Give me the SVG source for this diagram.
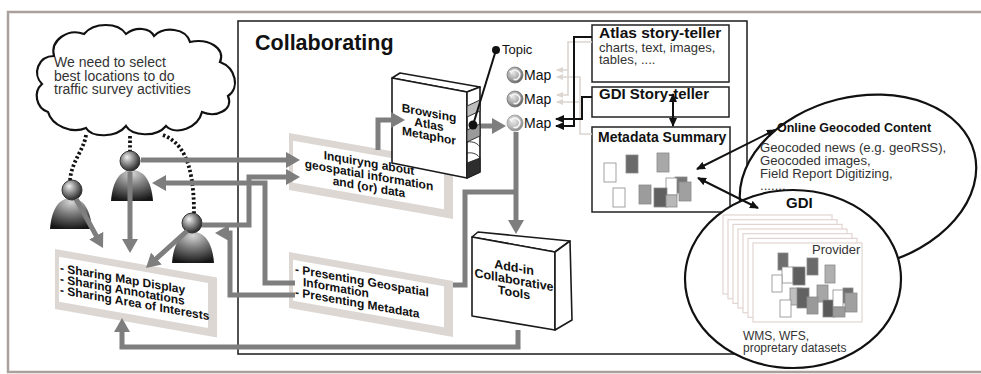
<svg xmlns="http://www.w3.org/2000/svg" width="981" height="374" viewBox="0 0 981 374">
<defs>
<style>
text{font-family:"Liberation Sans",Arial,Helvetica,sans-serif;fill:#111;}
.b{font-weight:bold;}
.grey{fill:#333;}
.conn{fill:none;stroke:#7e7e7e;stroke-width:5;}
.thin{fill:none;stroke:#111;stroke-width:2;}
.faint{fill:none;stroke:#ddd5d0;stroke-width:1.6;}
.outline{fill:#fff;stroke:#1a1a1a;stroke-width:1.6;stroke-linejoin:round;}
.frame{fill:#dcd7d3;}
.inner{fill:#fff;}
.dots{fill:none;stroke:#111;stroke-width:3.8;stroke-dasharray:2.4 2.2;}
.page{fill:#fff;stroke:#e2d5d1;stroke-width:1.2;}
.tile{stroke:#8a8a8a;stroke-width:0.8;}
</style>
<marker id="ga" viewBox="0 0 14 16" refX="9" refY="8" markerWidth="14" markerHeight="16" markerUnits="userSpaceOnUse" orient="auto"><path d="M0,0 L14,8 L0,16 z" fill="#7e7e7e"/></marker>
<marker id="ba" viewBox="0 0 9 8" refX="8" refY="4" markerWidth="9" markerHeight="8" markerUnits="userSpaceOnUse" orient="auto-start-reverse"><path d="M0,0 L9,4 L0,8 z" fill="#111"/></marker>
<marker id="fa" viewBox="0 0 7 6" refX="6" refY="3" markerWidth="7" markerHeight="6" markerUnits="userSpaceOnUse" orient="auto"><path d="M0,0 L7,3 L0,6 z" fill="#ddd5d0"/></marker>
<radialGradient id="headG" cx="40%" cy="38%" r="62%" fx="35%" fy="30%">
<stop offset="0" stop-color="#f2f2f2"/><stop offset="0.5" stop-color="#8c8c8c"/><stop offset="1" stop-color="#2a2a2a"/>
</radialGradient>
<radialGradient id="bodyG" cx="50%" cy="12%" r="90%">
<stop offset="0" stop-color="#d6d6d6"/><stop offset="0.45" stop-color="#7a7a7a"/><stop offset="1" stop-color="#151515"/>
</radialGradient>
<radialGradient id="globeG" cx="40%" cy="38%" r="65%">
<stop offset="0" stop-color="#e6e6e6"/><stop offset="0.6" stop-color="#a5a5a5"/><stop offset="1" stop-color="#5c5c5c"/>
</radialGradient>
<g id="globe">
<circle r="8" fill="url(#globeG)" stroke="#777" stroke-width="0.8"/>
<path d="M-3.5,-3 A4.6,4.6 0 1 1 -1.5,4.2" fill="none" stroke="#f4f4f4" stroke-width="1.6"/>
<path d="M-6,-4 L-2,-4.5 L-3.5,-0.8 z" fill="#f4f4f4"/>
</g>
</defs>

<rect width="981" height="374" fill="#fff"/>
<!-- outer frame -->
<path d="M981,12 H8 V372 H981" fill="none" stroke="#aaa19c" stroke-width="2.5"/>

<!-- collaborating area -->
<g id="collaborating">
<rect x="238" y="21" width="509" height="333" fill="none" stroke="#1a1a1a" stroke-width="1.5"/>
<text x="255" y="50" class="b" font-size="21.5">Collaborating</text>
</g>

<!-- thought cloud -->
<g id="cloud">
<path d="M48,112 C36,108 33,92 42,84 C32,74 38,56 54,56 C50,40 68,28 84,34 C94,22 118,22 126,34 C136,26 150,28 154,36 C164,26 186,28 190,42 C208,38 226,48 220,62 C236,68 240,88 228,96 C234,110 216,118 202,112 C198,128 176,136 166,126 C156,138 132,136 126,126 C116,138 92,138 86,128 C72,134 52,126 48,112 Z" fill="#fff" stroke="#111" stroke-width="2.2"/>
<text class="grey" font-size="14"><tspan x="54" y="67">We need to select</tspan><tspan x="54" y="80.5">best locations to do</tspan><tspan x="54" y="94">traffic survey activities</tspan></text>
</g>

<!-- links from thought to people -->
<g id="thought-links">
<path class="dots" d="M86,135 C84,150 72,160 70,180"/>
<path class="dots" d="M130,136 V151"/>
<path class="dots" d="M163,135 C180,142 194,158 194,213"/>
</g>

<!-- people -->
<g id="person-left">
<path d="M50,229 C51,215 56,198 71,198 C86,198 91,215 92,229 Z" fill="url(#bodyG)"/>
<circle cx="72" cy="190" r="10" fill="url(#headG)" stroke="#333" stroke-width="1"/>
</g>
<g id="person-middle">
<path d="M111,201 C112,187 117,170 132,170 C147,170 152,187 153,201 Z" fill="url(#bodyG)"/>
<circle cx="130" cy="161" r="10" fill="url(#headG)" stroke="#333" stroke-width="1"/>
</g>
<g id="person-right">
<path d="M172,263 C173,249 178,232 193,232 C208,232 213,249 214,263 Z" fill="url(#bodyG)"/>
<circle cx="192" cy="223" r="10" fill="url(#headG)" stroke="#333" stroke-width="1"/>
</g>

<!-- sharing box -->
<g id="sharing" transform="translate(55,249) skewY(10)">
<rect class="frame" width="162" height="60"/>
<rect class="inner" x="4" y="7" width="149" height="45"/>
<text class="b" font-size="12"><tspan x="5" y="22">- Sharing Map Display</tspan><tspan x="5" y="33">- Sharing Annotations</tspan><tspan x="5" y="44">- Sharing Area of Interests</tspan></text>
</g>

<!-- inquiring box -->
<g id="inquiring" transform="translate(289,133) skewY(10)">
<rect class="frame" width="164" height="57"/>
<rect class="inner" x="4" y="7" width="151" height="42"/>
<text class="b" font-size="12" text-anchor="middle"><tspan x="80" y="20">Inquiryng about</tspan><tspan x="80" y="32">geospatial information</tspan><tspan x="80" y="44">and (or) data</tspan></text>
</g>

<!-- presenting box -->
<g id="presenting" transform="translate(289,252) skewY(10)">
<rect class="frame" width="164" height="56"/>
<rect class="inner" x="4" y="7" width="151" height="41"/>
<text class="b" font-size="12"><tspan x="6" y="20">- Presenting Geospatial</tspan><tspan x="14" y="31.5">Information</tspan><tspan x="6" y="43">- Presenting Metadata</tspan></text>
</g>

<!-- atlas book -->
<g id="atlas-book">
<polygon class="outline" points="392,78 400,73 480,87 467,92"/>
<polygon class="outline" points="392,78 467,92 467,178 392,163"/>
<polygon class="outline" points="467,92 480,87 480,172 467,178"/>
<g stroke="#222" stroke-width="0.9">
<path d="M467,106 L480,100 L480,111 L467,117 Z" fill="#bdbdbd"/>
<path d="M467,130 L480,124 L480,136 L467,142 Z" fill="#9a9a9a"/>
<path d="M467,142 C474,141 478,144 480,147 M467,153 C474,152 478,155 480,158" fill="none"/>
<path d="M467,163 L480,158 L480,172 L467,178 Z" fill="#2e2e2e"/>
</g>
<g transform="translate(392,78) skewY(10.6)">
<text class="b" font-size="12" text-anchor="middle"><tspan x="37" y="32">Browsing</tspan><tspan x="37" y="43.5">Atlas</tspan><tspan x="37" y="55">Metaphor</tspan></text>
</g>
</g>

<!-- topic pin -->
<g id="topic">
<line x1="496" y1="50" x2="473" y2="125" stroke="#111" stroke-width="2"/>
<circle cx="496" cy="50" r="4" fill="#111"/>
<circle cx="473" cy="125" r="4.5" fill="#111"/>
<text x="502" y="54" font-size="13">Topic</text>
</g>

<!-- map entries -->
<g id="map1"><use href="#globe" x="515" y="75"/><text x="524" y="80" font-size="14">Map</text></g>
<g id="map2"><use href="#globe" x="515" y="99"/><text x="524" y="104" font-size="14">Map</text></g>
<g id="map3"><use href="#globe" x="515" y="123" opacity="0.75"/><text x="524" y="128" font-size="14">Map</text></g>

<!-- add-in tools -->
<g id="addin">
<polygon class="outline" points="472,237 478,232 570,241 555,252"/>
<polygon class="outline" points="472,237 555,252 555,330 472,316"/>
<polygon class="outline" points="555,252 570,241 572,320 555,330"/>
<g transform="translate(472,237) skewY(10.3)">
<text class="b" font-size="12.5" text-anchor="middle"><tspan x="42" y="27">Add-in</tspan><tspan x="42" y="39.5">Collaborative</tspan><tspan x="42" y="52">Tools</tspan></text>
</g>
</g>

<!-- story tellers and metadata -->
<g id="atlas-story">
<rect x="592" y="25" width="137" height="57" fill="#fff" stroke="#222" stroke-width="1.5"/>
<text x="599" y="38" class="b" font-size="15.5">Atlas story-teller</text>
<text class="grey" font-size="13"><tspan x="599" y="51.5">charts, text, images,</tspan><tspan x="599" y="64">tables, ....</tspan></text>
</g>
<g id="gdi-story">
<rect x="592" y="87" width="137" height="30" fill="#fff" stroke="#222" stroke-width="1.5"/>
<text x="599" y="99" class="b" font-size="15">GDI Story-teller</text>
</g>
<g id="metadata">
<rect x="592" y="127" width="138" height="85" fill="#fff" stroke="#222" stroke-width="1.5"/>
<text x="598" y="142" class="b" font-size="14">Metadata Summary</text>
<g class="tile">
<rect x="604" y="163" width="12" height="19" fill="#fff"/>
<rect x="626" y="155" width="12" height="18" fill="#6a6a6a"/>
<rect x="657" y="153" width="12" height="19" fill="#a8a8a8"/>
<rect x="613" y="188" width="12" height="19" fill="#fff"/>
<rect x="639" y="185" width="12" height="19" fill="#9c9c9c"/>
<rect x="675" y="177" width="12" height="16" fill="#777"/>
<rect x="666" y="178" width="11" height="17" fill="#fff"/>
<rect x="654" y="188" width="13" height="19" fill="#606060"/>
<rect x="666" y="195" width="11" height="12" fill="#b8b8b8"/>
<rect x="679" y="182" width="12" height="19" fill="#a0a0a0"/>
</g>
</g>

<!-- online content -->
<g id="online">
<ellipse cx="858" cy="182" rx="120" ry="85" transform="rotate(-14 858 182)" fill="#fff" stroke="#111" stroke-width="2.2"/>
<text x="777" y="132" class="b" font-size="12.5">Online Geocoded Content</text>
<text class="grey" font-size="13.2"><tspan x="760" y="151.5">Geocoded news (e.g. geoRSS),</tspan><tspan x="760" y="164.5">Geocoded images,</tspan><tspan x="760" y="177.5">Field Report Digitizing,</tspan><tspan x="760" y="190">.......</tspan></text>
</g>

<!-- GDI providers -->
<g id="gdi">
<ellipse cx="793" cy="279" rx="108" ry="89" fill="#fff" stroke="#111" stroke-width="2.2"/>
<text x="786" y="208" class="b" font-size="15">GDI</text>
<rect class="page" x="723" y="215" width="109" height="79"/>
<rect class="page" x="728" y="219.7" width="109" height="79"/>
<rect class="page" x="733" y="224.4" width="109" height="79"/>
<rect class="page" x="738" y="229" width="109" height="79"/>
<rect class="page" x="743" y="233.7" width="109" height="79"/>
<rect class="page" x="748" y="238.4" width="109" height="79"/>
<rect class="page" x="753" y="243" width="109" height="79"/>
<text x="812" y="254" font-size="13" class="grey">Provider</text>
<g class="tile">
<rect x="778" y="253" width="10" height="17" fill="#6e6e6e"/>
<rect x="807" y="258" width="11" height="17" fill="#6a6a6a"/>
<rect x="825" y="265" width="10" height="18" fill="#b0b0b0"/>
<rect x="782" y="267" width="11" height="16" fill="#fff"/>
<rect x="793" y="267" width="12" height="18" fill="#5e5e5e"/>
<rect x="772" y="275" width="10" height="17" fill="#fff"/>
<rect x="790" y="288" width="12" height="17" fill="#c0c0c0"/>
<rect x="797" y="288" width="12" height="20" fill="#626262"/>
<rect x="817" y="285" width="11" height="17" fill="#a6a6a6"/>
<rect x="807" y="297" width="11" height="17" fill="#9a9a9a"/>
<rect x="780" y="300" width="11" height="17" fill="#fff"/>
<rect x="823" y="300" width="12" height="17" fill="#5a5a5a"/>
<rect x="843" y="288" width="10" height="15" fill="#6e6e6e"/>
<rect x="833" y="290" width="10" height="17" fill="#fff"/>
<rect x="845" y="293" width="12" height="19" fill="#a0a0a0"/>
<rect x="833" y="307" width="12" height="10" fill="#9c9c9c"/>
</g>
<text class="grey" font-size="12"><tspan x="743" y="340">WMS, WFS,</tspan><tspan x="743" y="352">propretary datasets</tspan></text>
</g>

<!-- connectors -->
<g id="connectors">
<g class="faint">
<path d="M592,42 H568 V70 H557" marker-end="url(#fa)"/>
<path d="M568,70 V95 H557" marker-end="url(#fa)"/>
<path d="M592,134 H580 V102 H557" marker-end="url(#fa)"/>
<path d="M580,102 V77 H557" marker-end="url(#fa)"/>
</g>
<g class="conn" marker-end="url(#ga)">
<path d="M141,160 H295"/>
<path d="M202,225 H249 V177 H295"/>
<path d="M295,283 H265 V183 H157"/>
<path d="M295,295 H230 V233 H220"/>
<path d="M76,199 L100.6,243.6"/>
<path d="M130,172 V248"/>
<path d="M187,231 L149.7,264.6"/>
<path d="M518,330 V347 H122 V323"/>
<path d="M378,150 V120 H400"/>
<path d="M481,126 H501"/>
<path d="M516,132 V229"/>
</g>
<path class="conn" d="M516,192 H465 V285 H453"/>
<g class="thin">
<path d="M592,37 H574 V126 H556" marker-end="url(#ba)"/>
<path d="M592,97 H582 V119 H556" marker-end="url(#ba)"/>
<path d="M673,94 V126" marker-start="url(#ba)" marker-end="url(#ba)"/>
<path d="M775,130 L697,169" marker-start="url(#ba)" marker-end="url(#ba)"/>
<path d="M698,178 L758,208" marker-start="url(#ba)" marker-end="url(#ba)"/>
</g>
</g>
</svg>
